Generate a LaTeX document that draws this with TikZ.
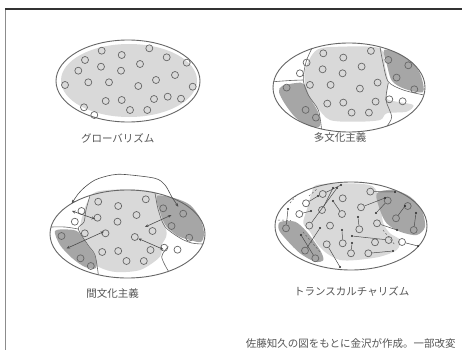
\documentclass[tikz,border=0pt]{standalone}
\usepackage{fontspec}
\newfontfamily\jp{Noto Sans CJK JP}
\usetikzlibrary{arrows.meta}
\definecolor{lg}{HTML}{D9D9D9}
\definecolor{dg}{HTML}{A6A6A6}
\definecolor{ol}{HTML}{666666}
\definecolor{tx}{HTML}{555555}
\def\circs{1/101.7/50.7, 2/149.3/48.3, 3/121.7/55, 4/85/60, 5/166.7/57.3, 6/186.7/62.7, 7/101/66.7, 8/140/64, 9/78.3/70.7, 10/121/70.7, 11/175/75, 12/156/80, 13/65/85, 14/88.3/82.3, 15/109/82.3, 16/138.3/86, 17/192.7/86.7, 18/105.7/101, 19/121.7/100, 20/154/99, 21/167.7/96.7, 22/181/98.7, 23/84/107.3, 24/130/110, 25/147.3/110, 26/94.3/115}
\begin{document}
\begin{tikzpicture}[x=1pt,y=-1pt,
 outer/.style={draw=ol,line width=0.9pt},
 bound/.style={draw=ol,line width=0.6pt},
 circ/.style={circle,draw=ol,line width=0.7pt,minimum size=7pt,inner sep=0pt},
 lbl/.style={font=\jp\fontsize{10.5}{12}\selectfont,text=tx,inner sep=0pt},
 arr/.style={draw=black!70,line width=0.6pt,{Stealth[length=3.5pt,width=3pt]}-{Stealth[length=3.5pt,width=3pt]}},
 lnk/.style={draw=black!70,line width=0.5pt},
 dotn/.style={circle,fill=black!85,inner sep=0pt,minimum size=2.2pt},
 dsh/.style={draw=black!60,line width=0.5pt,dash pattern=on 2pt off 2pt}]
\useasboundingbox (0,0) rectangle (462,350);
\fill[white] (0,0) rectangle (462,350);
% frame
\draw[draw=black!45,line width=1.5pt] (5.7,8.5) -- (5.7,350);
\draw[draw=black!80,line width=1.2pt] (5,9) -- (462,9);

% ===== Ellipse 1: Globalism
\fill[lg] (129,80.5) ellipse [x radius=68pt, y radius=36.5pt];
\draw[outer] (128,81) ellipse [x radius=72pt, y radius=41pt];
\foreach \i/\x/\y in \circs {\node[circ] (a\i) at (\x,\y) {};}
\node[lbl] (la) at (117.7,138.3) {グローバリズム};

% ===== Ellipse 2: Multiculturalism
\fill[lg] plot[smooth cycle] coordinates {(316.7,50)(340,46.7)(380,48.3)(385,66.7)(388.3,83.3)(386.7,98.3)(396.7,101.7)(413.3,105)(406.7,111.7)(386.7,113.3)(380,120)(356.7,121.7)(330,120)(316.7,106.7)(306.7,93.3)(305,70)};
\fill[dg] plot[smooth cycle] coordinates {(282,86)(296,83)(304,84)(310,98)(318,112)(320,126)(310,126)(296,118)(285,104)(279,92)};
\fill[dg] plot[smooth cycle] coordinates {(384,50)(398,53)(413,63)(421,76)(423,92)(405,89)(392,81)(387,65)};
\draw[bound] plot[smooth] coordinates {(311.7,48.7)(306,62)(303.3,80)(308.3,95)(318.3,110)(321.5,129)};
\draw[bound] plot[smooth] coordinates {(303.3,80)(290,80.5)(273.6,81.7)};
\draw[bound] plot[smooth] coordinates {(380,46.9)(383,63)(388.3,81.7)(403.3,90)(423.9,95)};
\draw[bound] plot[smooth] coordinates {(388.3,83)(386,100)(391.7,116.7)(387,126)};
\draw[outer] (349,87.5) ellipse [x radius=76pt, y radius=44.5pt];
\begin{scope}[shift={(221.6,2.6)}]
\foreach \i/\x/\y in \circs {\node[circ] (b\i) at (\x,\y) {};}
\end{scope}
\node[lbl] (lb) at (340.2,137.5) {多文化主義};

% ===== Ellipse 3: Interculturalism
\fill[lg] plot[smooth cycle] coordinates {(96.7,191.7)(130,189.3)(156.7,193.3)(160,210)(166.7,233.3)(161.7,245)(160,256.7)(140,270)(113.3,271.7)(93.3,263.3)(81.7,243.3)(80,226.7)(86.7,203.3)};
\fill[dg] plot[smooth cycle] coordinates {(55,231)(68,229.5)(78.3,232)(88,246)(95,256)(96,268)(85,267)(72,258)(60,245)};
\fill[dg] plot[smooth cycle] coordinates {(157,196)(175,198.3)(190,205)(200,218)(204,233)(201,242)(190,240)(178,236)(166,226)(160,212)};
\draw[bound] plot[smooth] coordinates {(90,195.5)(86,210)(84,222)(78.3,229)(88,245)(95,255)(98.3,274.5)};
\draw[bound] plot[smooth] coordinates {(78.3,229)(65,227)(51,227)};
\draw[bound] plot[smooth] coordinates {(155,192.9)(158.3,210)(165,226.7)(180,238)(191.7,243)(203,244)};
\draw[bound] plot[smooth] coordinates {(168.3,246.5)(161.7,256.7)(168.3,271)};
\draw[outer] (127.5,234) ellipse [x radius=77.5pt, y radius=44pt];
\begin{scope}[shift={(-3.5,151)}]
\foreach \i/\x/\y in \circs {\node[circ] (c\i) at (\x,\y) {};}
\end{scope}
\coordinate (ar1) at (71.7,203.3);
\coordinate (ar2) at (178.3,206.7);
\draw[arr] plot[smooth] coordinates {(ar1)(81.7,190)(95,180)(111.7,175)(125,174.5)(155,178.3)(165,185)(171.7,196.7)(ar2)};
\coordinate (p1) at (72,211); \coordinate (q1) at (95,219);
\coordinate (p2) at (104,231.5); \coordinate (q2) at (66.5,248.5);
\coordinate (p3) at (171.5,215); \coordinate (q3) at (145,227);
\coordinate (p4) at (163.5,249.5); \coordinate (q4) at (138.3,238.5);
\draw[arr] (p1) -- (q1);
\draw[arr] (p2) -- (q2);
\draw[arr] (p3) -- (q3);
\draw[arr] (p4) -- (q4);
\node[lbl] (lc) at (112.5,293.3) {間文化主義};

% ===== Ellipse 4: Transculturalism
\fill[lg] plot[smooth cycle] coordinates {(316.7,185)(350,183.3)(373.3,186.7)(380,203.3)(383.3,223.3)(390,233.3)(400,240)(396.7,250)(380,256.7)(356.7,260)(340,260)(326.7,253.3)(316.7,243.3)(310,231.7)(303.3,223.3)(306.7,210)(311.7,193.3)};
\fill[dg] plot[smooth cycle] coordinates {(280,222)(295,221.7)(306.7,231.7)(320,250)(323.3,260)(315,261.7)(300,253.3)(286.7,240)(279,230)};
\fill[dg] plot[smooth cycle] coordinates {(376.7,193.3)(393.3,190)(410,196.7)(421.7,210)(425,226.7)(416.7,235)(400,231.7)(386.7,223.3)(380,210)};
\draw[dsh] (278,220) -- (291,220.5);
\draw[dsh] (309,196) -- (317,189);
\draw[dsh] (303,232) -- (321,253);
\draw[dsh] (383,230) -- (395,245);
\draw[dsh] (290,203) -- (296,196);
\draw[outer] (351,226) ellipse [x radius=76pt, y radius=44pt];
\begin{scope}[shift={(221,143.3)}]
\foreach \i/\x/\y in \circs {\node[circ] (d\i) at (\x,\y) {};}
\end{scope}
\foreach \c/\x/\y [count=\k] in {1/341/185, 4/318/196, 7/333/188, 10/333/201, 9/311/211, 13/288/209, 26/301/235, 23/320/228, 18/340/267, 16/358/217, 19/342/230, 2/395/192, 8/385/198, 12/397/230, 11/405/206, 17/416/213, 21/352/236, 25/393/251, 5/376/213, 24/352/243, 14/337/188, 22/418/246}
 {\node[dotn] (t\k) at (\x,\y) {}; \draw[lnk] (d\c) -- (t\k);}
\node[lbl] (ld) at (351.7,291.7) {トランスカルチャリズム};

% caption
\node[lbl] (cap) at (350.8,343.3) {佐藤知久の図をもとに金沢が作成。一部改変};
\end{tikzpicture}
\end{document}
